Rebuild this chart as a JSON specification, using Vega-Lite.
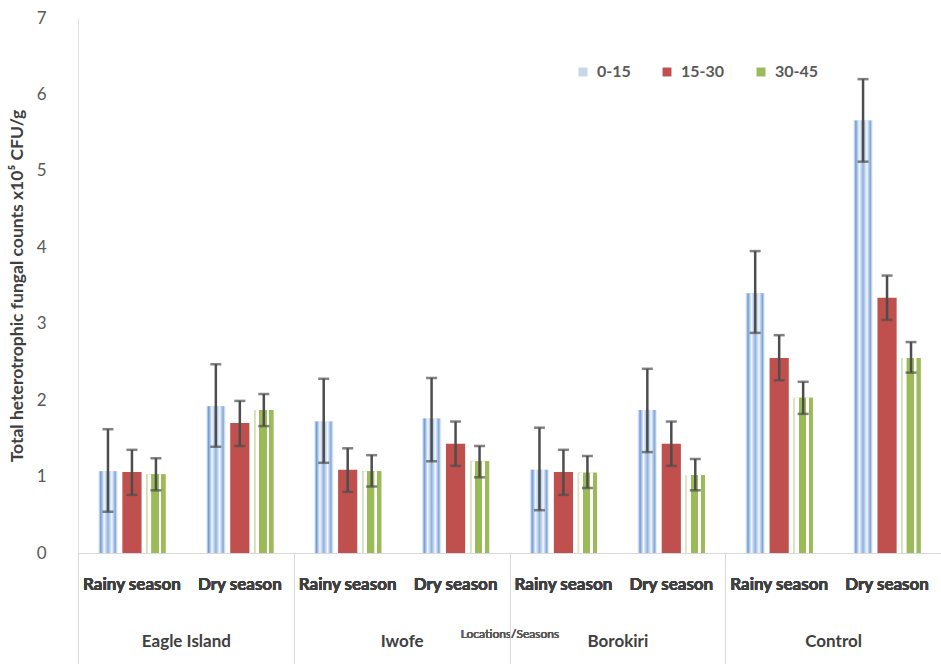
{
  "$schema": "https://vega.github.io/schema/vega-lite/v6.json",
  "width": 863,
  "height": 535,
  "autosize": {"type": "none"},
  "padding": {"left": 78, "top": 18, "right": 0, "bottom": 111},
  "background": "white",
  "config": {"view": {"stroke": null}, "font": "Lato"},
  "data": {"values": [
    {"loc": "Eagle Island", "cat": "Eagle Island|Rainy season", "depth": "0-15", "value": 1.07, "lo": 0.54, "hi": 1.62},
    {"loc": "Eagle Island", "cat": "Eagle Island|Rainy season", "depth": "15-30", "value": 1.06, "lo": 0.76, "hi": 1.35},
    {"loc": "Eagle Island", "cat": "Eagle Island|Rainy season", "depth": "30-45", "value": 1.03, "lo": 0.82, "hi": 1.24},
    {"loc": "Eagle Island", "cat": "Eagle Island|Dry season", "depth": "0-15", "value": 1.92, "lo": 1.39, "hi": 2.47},
    {"loc": "Eagle Island", "cat": "Eagle Island|Dry season", "depth": "15-30", "value": 1.70, "lo": 1.40, "hi": 1.99},
    {"loc": "Eagle Island", "cat": "Eagle Island|Dry season", "depth": "30-45", "value": 1.87, "lo": 1.66, "hi": 2.08},
    {"loc": "Iwofe", "cat": "Iwofe|Rainy season", "depth": "0-15", "value": 1.72, "lo": 1.18, "hi": 2.28},
    {"loc": "Iwofe", "cat": "Iwofe|Rainy season", "depth": "15-30", "value": 1.09, "lo": 0.80, "hi": 1.37},
    {"loc": "Iwofe", "cat": "Iwofe|Rainy season", "depth": "30-45", "value": 1.07, "lo": 0.87, "hi": 1.28},
    {"loc": "Iwofe", "cat": "Iwofe|Dry season", "depth": "0-15", "value": 1.76, "lo": 1.20, "hi": 2.29},
    {"loc": "Iwofe", "cat": "Iwofe|Dry season", "depth": "15-30", "value": 1.43, "lo": 1.14, "hi": 1.72},
    {"loc": "Iwofe", "cat": "Iwofe|Dry season", "depth": "30-45", "value": 1.20, "lo": 0.99, "hi": 1.40},
    {"loc": "Borokiri", "cat": "Borokiri|Rainy season", "depth": "0-15", "value": 1.09, "lo": 0.56, "hi": 1.64},
    {"loc": "Borokiri", "cat": "Borokiri|Rainy season", "depth": "15-30", "value": 1.06, "lo": 0.76, "hi": 1.35},
    {"loc": "Borokiri", "cat": "Borokiri|Rainy season", "depth": "30-45", "value": 1.05, "lo": 0.85, "hi": 1.27},
    {"loc": "Borokiri", "cat": "Borokiri|Dry season", "depth": "0-15", "value": 1.87, "lo": 1.32, "hi": 2.41},
    {"loc": "Borokiri", "cat": "Borokiri|Dry season", "depth": "15-30", "value": 1.43, "lo": 1.14, "hi": 1.72},
    {"loc": "Borokiri", "cat": "Borokiri|Dry season", "depth": "30-45", "value": 1.02, "lo": 0.82, "hi": 1.23},
    {"loc": "Control", "cat": "Control|Rainy season", "depth": "0-15", "value": 3.40, "lo": 2.88, "hi": 3.95},
    {"loc": "Control", "cat": "Control|Rainy season", "depth": "15-30", "value": 2.55, "lo": 2.26, "hi": 2.85},
    {"loc": "Control", "cat": "Control|Rainy season", "depth": "30-45", "value": 2.03, "lo": 1.82, "hi": 2.24},
    {"loc": "Control", "cat": "Control|Dry season", "depth": "0-15", "value": 5.66, "lo": 5.12, "hi": 6.20},
    {"loc": "Control", "cat": "Control|Dry season", "depth": "15-30", "value": 3.34, "lo": 3.05, "hi": 3.63},
    {"loc": "Control", "cat": "Control|Dry season", "depth": "30-45", "value": 2.55, "lo": 2.36, "hi": 2.76}
  ]},
  "encoding": {
    "x": {
      "field": "cat", "type": "nominal", "sort": null,
      "scale": {"paddingInner": 0.333, "paddingOuter": 0.1667},
      "axis": {
        "orient": "bottom",
        "labelExpr": "split(datum.value, '|')[1]",
        "labelAngle": 0,
        "ticks": false,
        "domain": true, "domainColor": "#d9d9d9", "domainWidth": 1,
        "labelFont": "Lato", "labelFontSize": 17, "labelFontWeight": "bold", "labelColor": "#404040",
        "labelPadding": 23,
        "title": "Locations/Seasons",
        "titleFont": "Lato", "titleFontSize": 12, "titleFontWeight": "normal", "titleColor": "#595959",
        "titlePadding": 36
      }
    },
    "xOffset": {"field": "depth", "type": "nominal", "scale": {"paddingInner": 0.2, "paddingOuter": 0.1}},
    "y": {
      "field": "value", "type": "quantitative",
      "scale": {"domain": [0, 7], "nice": false},
      "axis": {
        "values": [0, 1, 2, 3, 4, 5, 6, 7],
        "grid": false, "ticks": false,
        "domain": true, "domainColor": "#e3e0da", "domainWidth": 1,
        "labelFont": "Lato", "labelFontSize": 17, "labelColor": "#595959", "labelPadding": 32,
        "title": "Total heterotrophic fungal counts x10⁵ CFU/g",
        "titleFont": "Lato", "titleFontSize": 17.5, "titleFontWeight": "bold", "titleColor": "#404040",
        "titlePadding": 10
      }
    }
  },
  "layer": [
    {
      "mark": {"type": "bar"},
      "encoding": {
        "color": {
          "field": "depth", "type": "nominal",
          "scale": {"domain": ["0-15", "15-30", "30-45"], "range": ["#c6d7ee", "#c0504d", "#9bbb59"]},
          "legend": {
            "orient": "none", "legendX": 497, "legendY": 46,
            "direction": "horizontal", "columns": 3, "title": null,
            "symbolType": "square", "symbolSize": 80, "symbolStrokeWidth": 0,
            "labelFont": "Lato", "labelFontSize": 16, "labelFontWeight": "bold", "labelColor": "#595959",
            "labelOffset": 6, "columnPadding": 28
          }
        }
      }
    },
    {
      "transform": [{"filter": "datum.depth === '0-15'"}],
      "mark": {"type": "bar", "fill": {"gradient": "linear", "x1": 0, "y1": 0, "x2": 1, "y2": 0, "stops": [
        {"offset": 0, "color": "#ffffff"},
        {"offset": 0.12, "color": "#6f9bd3"},
        {"offset": 0.3, "color": "#f3f7fc"},
        {"offset": 0.5, "color": "#8fb2df"},
        {"offset": 0.7, "color": "#f3f7fc"},
        {"offset": 0.88, "color": "#7ea6d9"},
        {"offset": 1, "color": "#ffffff"}
      ]}}
    },
    {
      "transform": [{"filter": "datum.depth === '30-45'"}],
      "mark": {"type": "bar", "fill": {"gradient": "linear", "x1": 0, "y1": 0, "x2": 1, "y2": 0, "stops": [
        {"offset": 0, "color": "#dbe7c4"},
        {"offset": 0.08, "color": "#dbe7c4"},
        {"offset": 0.09, "color": "#ffffff"},
        {"offset": 0.26, "color": "#ffffff"},
        {"offset": 0.27, "color": "#9bbb59"},
        {"offset": 0.64, "color": "#9bbb59"},
        {"offset": 0.65, "color": "#ffffff"},
        {"offset": 0.78, "color": "#ffffff"},
        {"offset": 0.79, "color": "#9bbb59"},
        {"offset": 1, "color": "#9bbb59"}
      ]}}
    },
    {
      "mark": {"type": "rule", "color": "#4d4d4d", "strokeWidth": 2.5},
      "encoding": {"y": {"field": "lo", "type": "quantitative"}, "y2": {"field": "hi"}}
    },
    {
      "mark": {"type": "tick", "color": "#4d4d4d", "thickness": 2.5, "size": 11},
      "encoding": {"y": {"field": "lo", "type": "quantitative"}}
    },
    {
      "mark": {"type": "tick", "color": "#4d4d4d", "thickness": 2.5, "size": 11},
      "encoding": {"y": {"field": "hi", "type": "quantitative"}}
    },
    {
      "mark": {"type": "point", "opacity": 0},
      "encoding": {
        "x": {
          "field": "loc", "type": "nominal", "sort": null,
          "scale": {"paddingInner": 0, "paddingOuter": 0},
          "axis": {
            "orient": "bottom", "domain": false,
            "ticks": true, "tickBand": "extent", "tickSize": 111, "tickColor": "#d9d9d9", "tickWidth": 1,
            "labelAngle": 0, "labelPadding": -31,
            "labelFont": "Lato", "labelFontSize": 17, "labelFontWeight": "bold", "labelColor": "#404040",
            "title": null
          }
        },
        "xOffset": {"value": 0}
      }
    }
  ],
  "resolve": {"scale": {"x": "independent"}, "axis": {"x": "independent"}}
}
